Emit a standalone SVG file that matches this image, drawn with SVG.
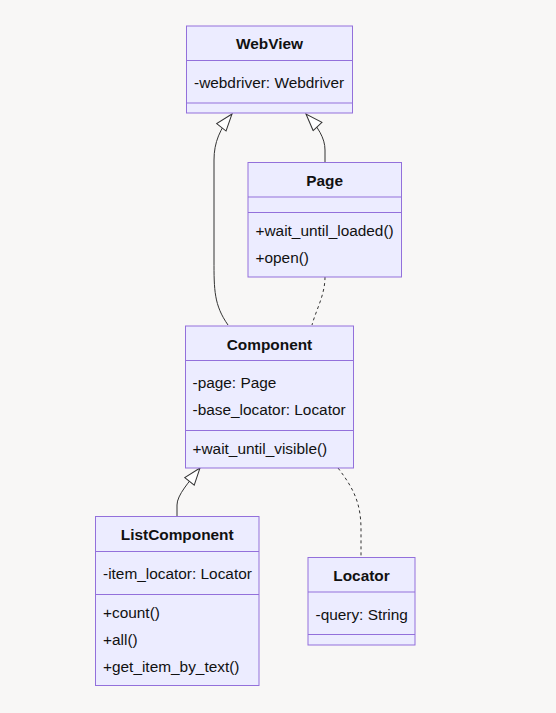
<svg xmlns="http://www.w3.org/2000/svg" width="556" height="713" viewBox="0 0 556 713">
<style>
.box{fill:#ECECFF;stroke:#9370DB;stroke-width:1}
.div{stroke:#9370DB;stroke-width:1}
.t{font-family:"Liberation Sans",Arial,sans-serif;font-size:15.4px;fill:#111;dominant-baseline:central}
.h{font-weight:bold;text-anchor:middle}
.e{fill:none;stroke:#333;stroke-width:1}
.d{stroke-dasharray:3,3}
</style>
<defs>
<marker id="ext" markerWidth="20" markerHeight="16" refX="18" refY="7" orient="auto" markerUnits="userSpaceOnUse">
<path d="M1,1 L1,13 L18,7 Z" fill="#fff" stroke="#333" stroke-width="1"/>
</marker>
</defs>
<rect width="556" height="713" fill="#f8f7f6"/>
<g id="connectors">
<path class="e" d="M228,325 C214,305 214,290 214,260 L214,160 C214,142 220,129 232,114" marker-end="url(#ext)"/>
<path class="e" d="M325,162 L325,150 C325,138 318,127 306,114" marker-end="url(#ext)"/>
<path class="e d" d="M325,277 C325,295 316,310 312,325"/>
<path class="e" d="M177,516 L177,505 C177,495 189,482 200,468" marker-end="url(#ext)"/>
<path class="e d" d="M338,468 C355,490 361,505 361,530 L361,557"/>
</g>
<g id="WebView">
<rect class="box" x="186.5" y="26" width="166" height="87"/>
<line class="div" x1="186.5" y1="60.5" x2="352.5" y2="60.5"/>
<line class="div" x1="186.5" y1="103" x2="352.5" y2="103"/>
<text class="t h" x="269.5" y="43">WebView</text>
<text class="t" x="194" y="82">-webdriver: Webdriver</text>
</g>
<g id="Page">
<rect class="box" x="248" y="162.5" width="153.5" height="114.5"/>
<line class="div" x1="248" y1="197" x2="401.5" y2="197"/>
<line class="div" x1="248" y1="212.5" x2="401.5" y2="212.5"/>
<text class="t h" x="324.7" y="180">Page</text>
<text class="t" x="255.5" y="230">+wait_until_loaded()</text>
<text class="t" x="255.5" y="257">+open()</text>
</g>
<g id="Component">
<rect class="box" x="185.5" y="326" width="168" height="142"/>
<line class="div" x1="185.5" y1="360.5" x2="353.5" y2="360.5"/>
<line class="div" x1="185.5" y1="430.5" x2="353.5" y2="430.5"/>
<text class="t h" x="269.5" y="344">Component</text>
<text class="t" x="192.5" y="382">-page: Page</text>
<text class="t" x="192.5" y="409">-base_locator: Locator</text>
<text class="t" x="192.5" y="448">+wait_until_visible()</text>
</g>
<g id="ListComponent">
<rect class="box" x="95.5" y="516.5" width="163.5" height="169"/>
<line class="div" x1="95.5" y1="551.5" x2="259" y2="551.5"/>
<line class="div" x1="95.5" y1="594.5" x2="259" y2="594.5"/>
<text class="t h" x="177.2" y="534">ListComponent</text>
<text class="t" x="103" y="573">-item_locator: Locator</text>
<text class="t" x="103" y="612">+count()</text>
<text class="t" x="103" y="639">+all()</text>
<text class="t" x="103" y="666">+get_item_by_text()</text>
</g>
<g id="Locator">
<rect class="box" x="308" y="557.5" width="107" height="87.5"/>
<line class="div" x1="308" y1="592" x2="415" y2="592"/>
<line class="div" x1="308" y1="634.5" x2="415" y2="634.5"/>
<text class="t h" x="361.5" y="575">Locator</text>
<text class="t" x="315.5" y="614">-query: String</text>
</g>
</svg>
